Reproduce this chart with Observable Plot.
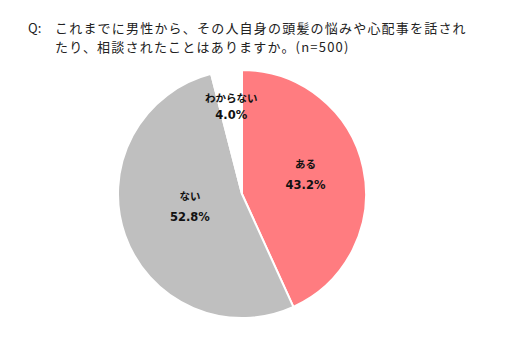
<!DOCTYPE html>
<html><head><meta charset="utf-8">
<script src="https://cdn.jsdelivr.net/npm/d3@7"></script>
<script src="https://cdn.jsdelivr.net/npm/@observablehq/plot@0.6"></script>
<style>
body{margin:0;background:#fff;width:520px;height:351px;overflow:hidden}
#title{height:60px;box-sizing:border-box;padding-top:18px;font-family:"Noto Sans CJK JP";font-size:13px;line-height:19px;letter-spacing:1.2px;color:#222;display:flex;white-space:nowrap}
#title .q{width:27px;padding-left:28px;flex:none;letter-spacing:0}
#title .line{display:block;height:19px}
#chart svg{display:block}
</style></head><body>
<div id="title"><span class="q">Q:</span><span id="qtext"></span></div>
<div id="chart"></div>
<script>
const titleLines = ["これまでに男性から、その人自身の頭髪の悩みや心配事を話され", "たり、相談されたことはありますか。(n=500)"];
const categories = ["ある", "ない", "わからない"];
const values = [43.2, 52.8, 4.0];
const colors = ["#FF7C80", "#BFBFBF", "#FFFFFF"];

const qt = document.getElementById("qtext");
titleLines.forEach(t => { const s = document.createElement("span"); s.className = "line"; s.textContent = t; qt.appendChild(s); });

const data = categories.map((c, i) => ({category: c, value: values[i], color: colors[i]}));
const pie = d3.pie().value(d => d.value).sort(null)(data);

const labels = pie.map(p => {
  const a = (p.startAngle + p.endAngle) / 2;
  const v = p.data.value;
  const r = v < 10 ? 0.72 : (v > 50 ? 0.45 : 0.52);
  return {x: r * Math.sin(a), y: r * Math.cos(a), name: p.data.category, pct: `${v.toFixed(1)}%`, small: v < 10};
});
const big = labels.filter(d => !d.small), small = labels.filter(d => d.small);

function slices(index, scales) {
  const cx = scales.x(0), cy = scales.y(0), R = scales.x(1) - cx;
  const arc = d3.arc().innerRadius(0).outerRadius(R);
  const g = d3.create("svg:g").attr("transform", `translate(${cx},${cy})`);
  g.selectAll("path").data(pie).join("path")
    .attr("d", arc).attr("fill", d => d.data.color)
    .attr("stroke", "#fff").attr("stroke-width", 2).attr("stroke-linejoin", "round");
  return g.node();
}

const nameFont = {fontFamily: "'Noto Sans CJK JP', sans-serif", fontWeight: "bold", fontSize: 10.5, fill: "#111"};
const pctFont = {fontFamily: "'DejaVu Sans', sans-serif", fontWeight: "bold", fontSize: 11.5, fill: "#111"};

const chart = Plot.plot({
  width: 520,
  height: 291,
  x: {domain: [-1, 1], range: [118, 366], axis: null},
  y: {domain: [-1, 1], range: [258, 10], axis: null},
  marks: [
    slices,
    Plot.text(big, {x: "x", y: "y", text: "name", dy: -16.5, ...nameFont}),
    Plot.text(big, {x: "x", y: "y", text: "pct", dy: 4.5, ...pctFont}),
    Plot.text(small, {x: "x", y: "y", text: "name", dy: -7.5, ...nameFont}),
    Plot.text(small, {x: "x", y: "y", text: "pct", dy: 9.5, ...pctFont})
  ]
});
document.getElementById("chart").appendChild(chart);
</script>
</body></html>
